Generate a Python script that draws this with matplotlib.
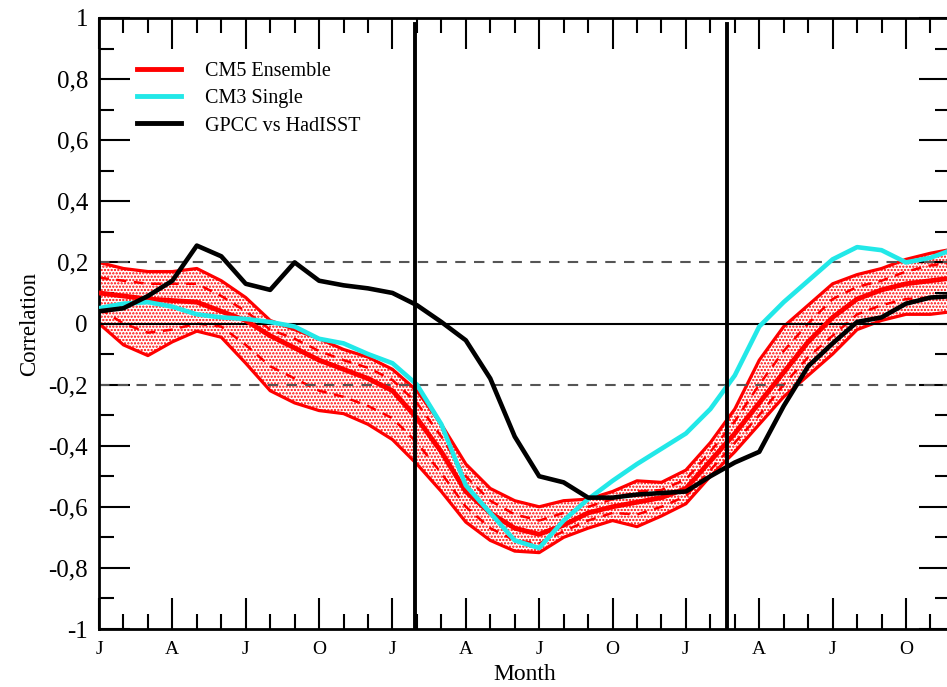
import matplotlib
matplotlib.use("Agg")
import matplotlib.pyplot as plt
from matplotlib.lines import Line2D
from matplotlib.ticker import FixedLocator, MultipleLocator

# ---- data -------------------------------------------------------------
months = list(range(36))

gpcc = [0.04, 0.05, 0.09, 0.14, 0.255, 0.22, 0.13, 0.11, 0.20, 0.14, 0.125, 0.115,
        0.10, 0.06, 0.005, -0.055, -0.18, -0.37, -0.50, -0.52, -0.57, -0.57, -0.56, -0.555,
        -0.55, -0.50, -0.455, -0.42, -0.27, -0.14, -0.065, 0.005, 0.02, 0.065, 0.085, 0.09]

cm3 = [0.05, 0.065, 0.07, 0.055, 0.03, 0.02, 0.015, 0.005, -0.01, -0.05, -0.065, -0.10,
       -0.13, -0.20, -0.33, -0.53, -0.62, -0.71, -0.735, -0.645, -0.575, -0.515, -0.46, -0.41,
       -0.36, -0.28, -0.17, -0.01, 0.07, 0.14, 0.21, 0.25, 0.24, 0.20, 0.215, 0.245]

cm5_upper = [0.20, 0.18, 0.17, 0.17, 0.18, 0.14, 0.085, 0.01, -0.02, -0.05, -0.085, -0.11,
             -0.15, -0.22, -0.33, -0.46, -0.54, -0.58, -0.60, -0.58, -0.575, -0.55, -0.515, -0.52,
             -0.48, -0.39, -0.28, -0.12, -0.01, 0.06, 0.13, 0.16, 0.18, 0.21, 0.23, 0.245]

cm5_upper_sd = [0.15, 0.14, 0.13, 0.13, 0.13, 0.09, 0.04, -0.02, -0.05, -0.09, -0.12, -0.145,
                -0.185, -0.26, -0.37, -0.50, -0.58, -0.625, -0.645, -0.62, -0.60, -0.575, -0.55, -0.545,
                -0.51, -0.42, -0.32, -0.20, -0.09, 0.0, 0.08, 0.12, 0.14, 0.17, 0.19, 0.20]

cm5_mean = [0.10, 0.09, 0.08, 0.075, 0.07, 0.04, 0.01, -0.04, -0.08, -0.12, -0.15, -0.18,
            -0.22, -0.31, -0.42, -0.55, -0.62, -0.67, -0.69, -0.66, -0.62, -0.60, -0.585, -0.57,
            -0.54, -0.45, -0.36, -0.26, -0.16, -0.06, 0.02, 0.08, 0.11, 0.13, 0.14, 0.15]

cm5_lower_sd = [0.05, 0.0, -0.03, -0.02, 0.0, -0.01, -0.07, -0.14, -0.18, -0.22, -0.24, -0.27,
                -0.31, -0.39, -0.49, -0.60, -0.67, -0.71, -0.72, -0.68, -0.645, -0.62, -0.625, -0.60,
                -0.565, -0.48, -0.39, -0.30, -0.20, -0.11, -0.04, 0.03, 0.06, 0.08, 0.085, 0.09]

cm5_lower = [0.0, -0.07, -0.105, -0.06, -0.025, -0.045, -0.13, -0.22, -0.26, -0.285, -0.295, -0.33,
             -0.38, -0.46, -0.55, -0.65, -0.71, -0.745, -0.75, -0.70, -0.67, -0.645, -0.665, -0.63,
             -0.59, -0.50, -0.42, -0.33, -0.24, -0.17, -0.10, -0.02, 0.01, 0.03, 0.03, 0.04]

vlines_x = [12.92, 25.67]

xtick_pos = list(range(0, 36, 3))
xtick_labels = ["J", "A", "J", "O"] * 3
ytick_pos = [-1, -0.8, -0.6, -0.4, -0.2, 0, 0.2, 0.4, 0.6, 0.8, 1]
ytick_labels = ["-1", "-0,8", "-0,6", "-0,4", "-0,2", "0", "0,2", "0,4", "0,6", "0,8", "1"]

legend_labels = ["CM5 Ensemble", "CM3 Single", "GPCC vs HadISST"]

# ---- figure -----------------------------------------------------------
plt.rcParams['font.family'] = ['Liberation Serif', 'DejaVu Serif']
plt.rcParams['hatch.color'] = 'red'
plt.rcParams['hatch.linewidth'] = 1.1

W, H = 947, 687
fig = plt.figure(figsize=(W / 100, H / 100), dpi=100)
left = 99 / W
right = 950 / W
bottom = 1 - 629 / H
top = 1 - 18 / H
ax = fig.add_axes([left, bottom, right - left, top - bottom])

RED = '#ff0000'
CYAN = '#22e8e8'

ax.fill_between(months, cm5_lower, cm5_upper, facecolor='white', edgecolor=RED,
                hatch='.....', linewidth=0, zorder=1)
ax.plot(months, cm5_upper, color=RED, lw=2.3, zorder=2)
ax.plot(months, cm5_lower, color=RED, lw=2.3, zorder=2)
ax.plot(months, cm5_upper_sd, color=RED, lw=1.8, ls=(0, (4, 3)), zorder=2)
ax.plot(months, cm5_lower_sd, color=RED, lw=1.8, ls=(0, (4, 3)), zorder=2)
ax.plot(months, cm5_mean, color=RED, lw=3.5, zorder=3)

ax.axhline(0, color='black', lw=1.5, zorder=2)
ax.axhline(0.2, color='#555555', lw=1.5, ls=(0, (5, 4)), zorder=2)
ax.axhline(-0.2, color='#555555', lw=1.5, ls=(0, (5, 4)), zorder=2)

ax.plot(months, cm3, color=CYAN, lw=3.3, zorder=4)
ax.plot(months, gpcc, color='black', lw=3.3, zorder=5)

for xv in vlines_x:
    ax.axvline(xv, ymin=0.003, ymax=0.99, color='black', lw=2.8, zorder=6)

ax.set_xlim(0, 34.8)
ax.set_ylim(-1, 1)

ax.xaxis.set_major_locator(FixedLocator(xtick_pos))
ax.set_xticklabels(xtick_labels, fontsize=14)
ax.xaxis.set_minor_locator(MultipleLocator(1))
ax.set_yticks(ytick_pos)
ax.set_yticklabels(ytick_labels, fontsize=18)
ax.yaxis.set_minor_locator(MultipleLocator(0.1))

ax.tick_params(which='both', direction='in', top=True, right=True, width=1.5, color='black')
ax.tick_params(which='major', length=22)
ax.tick_params(which='minor', length=11)
ax.tick_params(axis='x', which='major', pad=9)
ax.tick_params(axis='y', which='major', pad=8)

for sp in ax.spines.values():
    sp.set_linewidth(2.0)

ax.set_xlabel("Month", fontsize=17, labelpad=4)
ax.set_ylabel("Correlation", fontsize=16.5, labelpad=6)

handles = [Line2D([0], [0], color=RED, lw=3.5),
           Line2D([0], [0], color=CYAN, lw=3.5),
           Line2D([0], [0], color='black', lw=3.5)]
ax.legend(handles, legend_labels, loc='upper left', bbox_to_anchor=(0.035, 0.941),
          borderaxespad=0, frameon=False, fontsize=14.5, handlelength=2.2,
          handletextpad=1.2, labelspacing=0.4)

fig.savefig("out.png", dpi=100)
